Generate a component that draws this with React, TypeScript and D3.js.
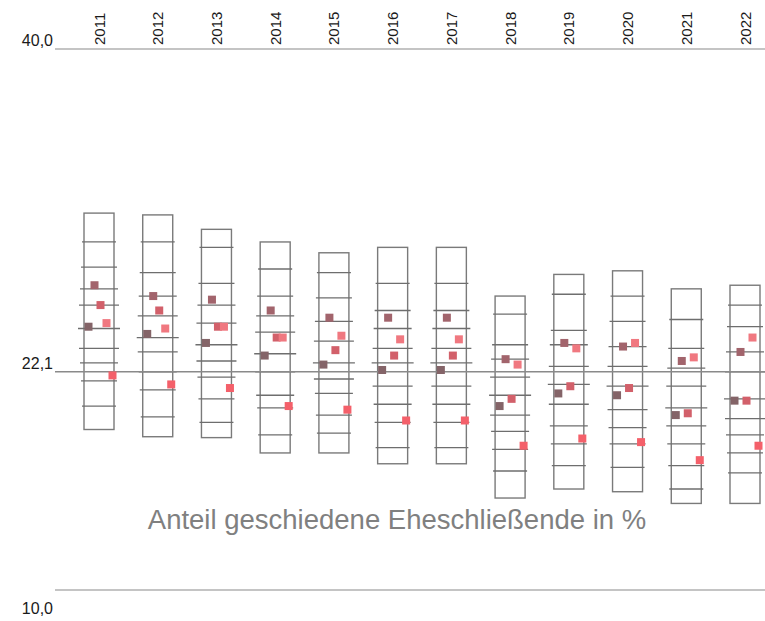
import { useEffect, useRef } from "react";
import * as d3 from "d3";

const years = ["2011", "2012", "2013", "2014", "2015", "2016", "2017", "2018", "2019", "2020", "2021", "2022"];

// range of all regions per year (min / max)
const boxMin = [18.9, 18.5, 18.45, 17.6, 17.6, 17.0, 17.0, 15.1, 15.6, 15.45, 14.8, 14.8];
const boxMax = [30.9, 30.8, 30.0, 29.3, 28.7, 29.0, 29.0, 26.3, 27.5, 27.7, 26.7, 26.9];

// deciles 10% .. 90%
const deciles = [
  [20.2, 21.6, 22.6, 23.4, 24.5, 25.8, 26.7, 27.9, 29.3],
  [19.6, 21.1, 22.1, 23.2, 24.0, 25.2, 26.3, 27.6, 29.3],
  [19.3, 20.6, 21.8, 22.7, 23.6, 24.8, 25.8, 27.0, 29.0],
  [18.6, 20.1, 20.8, 22.1, 23.1, 24.3, 25.2, 26.3, 27.8],
  [18.7, 19.7, 20.9, 21.7, 22.6, 23.8, 24.9, 26.2, 27.6],
  [17.9, 19.3, 20.3, 21.3, 22.6, 23.4, 24.5, 25.5, 27.0],
  [17.9, 19.3, 20.3, 21.3, 22.6, 23.4, 24.5, 25.5, 27.0],
  [16.6, 17.8, 18.8, 19.7, 20.8, 21.8, 22.8, 23.6, 25.3],
  [16.9, 18.1, 19.1, 20.3, 21.4, 22.4, 23.6, 24.4, 26.4],
  [16.8, 18.1, 19.0, 20.0, 21.3, 22.4, 23.5, 24.9, 26.3],
  [15.6, 16.9, 18.1, 19.1, 20.1, 21.3, 22.3, 23.4, 25.0],
  [16.5, 17.6, 18.6, 19.5, 20.6, 22.1, 23.2, 24.6, 25.8],
];

// highlighted regions
const serDark = [24.6, 24.2, 23.7, 23.0, 22.5, 22.2, 22.2, 20.2, 20.9, 20.8, 19.7, 20.5];
const serMauve = [26.9, 26.3, 26.1, 25.5, 25.1, 25.1, 25.1, 22.8, 23.7, 23.5, 22.7, 23.2];
const serRust = [25.8, 25.5, 24.6, 24.0, 23.3, 23.0, 23.0, 20.6, 21.3, 21.2, 19.8, 20.5];
const serPink = [24.8, 24.5, 24.6, 24.0, 24.1, 23.9, 23.9, 22.5, 23.4, 23.7, 22.9, 24.0];
const serRed = [21.9, 21.4, 21.2, 20.2, 20.0, 19.4, 19.4, 18.0, 18.4, 18.2, 17.2, 18.0];

const reference = 22.1;
const yTicks = [40, reference, 10];
const title = "Anteil geschiedene Eheschließende in %";

const width = 765, height = 621;

export default function App() {
  const svgRef = useRef<SVGSVGElement>(null);

  useEffect(() => {
    const svg = d3.select(svgRef.current);
    svg.selectAll("*").remove();

    const font = "'Liberation Sans', Arial, sans-serif";
    const x = d3.scalePoint().domain(years).range([99, 745]);
    const y = d3.scaleLinear().domain([10, 40]).range([590, 49]);
    const fmt = (v: number) => d3.format(".1f")(v).replace(".", ",");

    // outer grid lines 40 / 10
    svg.selectAll("line.grid")
      .data([40, 10])
      .join("line")
        .attr("x1", 55).attr("x2", width)
        .attr("y1", d => y(d)).attr("y2", d => y(d))
        .attr("stroke", "#c4c4c4")
        .attr("stroke-width", 2);

    // year labels
    svg.selectAll("text.year")
      .data(years)
      .join("text")
        .attr("transform", d => `translate(${x(d)! + 5.5},45) rotate(-90)`)
        .attr("font-family", font)
        .attr("font-size", 15)
        .attr("fill", "#1a1a1a")
        .text(d => d);

    // boxes
    const box = svg.selectAll("g.box")
      .data(years)
      .join("g")
        .attr("transform", d => `translate(${x(d)},0)`);

    box.append("rect")
      .attr("x", -15)
      .attr("width", 30)
      .attr("y", (d, i) => y(boxMax[i]))
      .attr("height", (d, i) => y(boxMin[i]) - y(boxMax[i]))
      .attr("fill", "none")
      .attr("stroke", "#7a7a7a")
      .attr("stroke-width", 1.4);

    box.each(function (d, i) {
      d3.select(this).selectAll("line")
        .data(deciles[i])
        .join("line")
          .attr("x1", (v, k) => -(17 + 4 * (1 - Math.abs(k - 4) / 4)))
          .attr("x2", (v, k) => 17 + 4 * (1 - Math.abs(k - 4) / 4))
          .attr("y1", v => y(v)).attr("y2", v => y(v))
          .attr("stroke", "#6e6e6e")
          .attr("stroke-width", 1.3);
    });

    // reference line
    svg.append("line")
      .attr("x1", 55).attr("x2", width)
      .attr("y1", y(reference)).attr("y2", y(reference))
      .attr("stroke", "#8a8a8a")
      .attr("stroke-width", 1.5);

    // y labels
    svg.selectAll("text.ylab")
      .data(yTicks)
      .join("text")
        .attr("x", 53)
        .attr("y", d => d === 10 ? y(d) + 24 : y(d) - 3)
        .attr("text-anchor", "end")
        .attr("font-family", font)
        .attr("font-size", 16)
        .attr("fill", "#1a1a1a")
        .text(d => fmt(d));

    // highlighted squares
    const series = [
      { values: serDark, dx: -10.5, color: "#846468" },
      { values: serMauve, dx: -4.5, color: "#a2646c" },
      { values: serRust, dx: 1.5, color: "#d2606a" },
      { values: serPink, dx: 7.5, color: "#f07880" },
      { values: serRed, dx: 13.5, color: "#f4606a" },
    ];
    series.forEach(s => {
      svg.append("g")
        .selectAll("rect")
        .data(s.values)
        .join("rect")
          .attr("x", (v, i) => x(years[i])! + s.dx - 4)
          .attr("y", v => y(v) - 4)
          .attr("width", 8)
          .attr("height", 8)
          .attr("fill", s.color);
    });

    // caption
    svg.append("text")
      .attr("x", 397)
      .attr("y", 529)
      .attr("text-anchor", "middle")
      .attr("font-family", font)
      .attr("font-size", 27.5)
      .attr("fill", "#808080")
      .text(title);
  }, []);

  return (
    <svg
      ref={svgRef}
      width={width}
      height={height}
      style={{ position: "absolute", left: 0, top: 0, background: "#fff" }}
    />
  );
}
